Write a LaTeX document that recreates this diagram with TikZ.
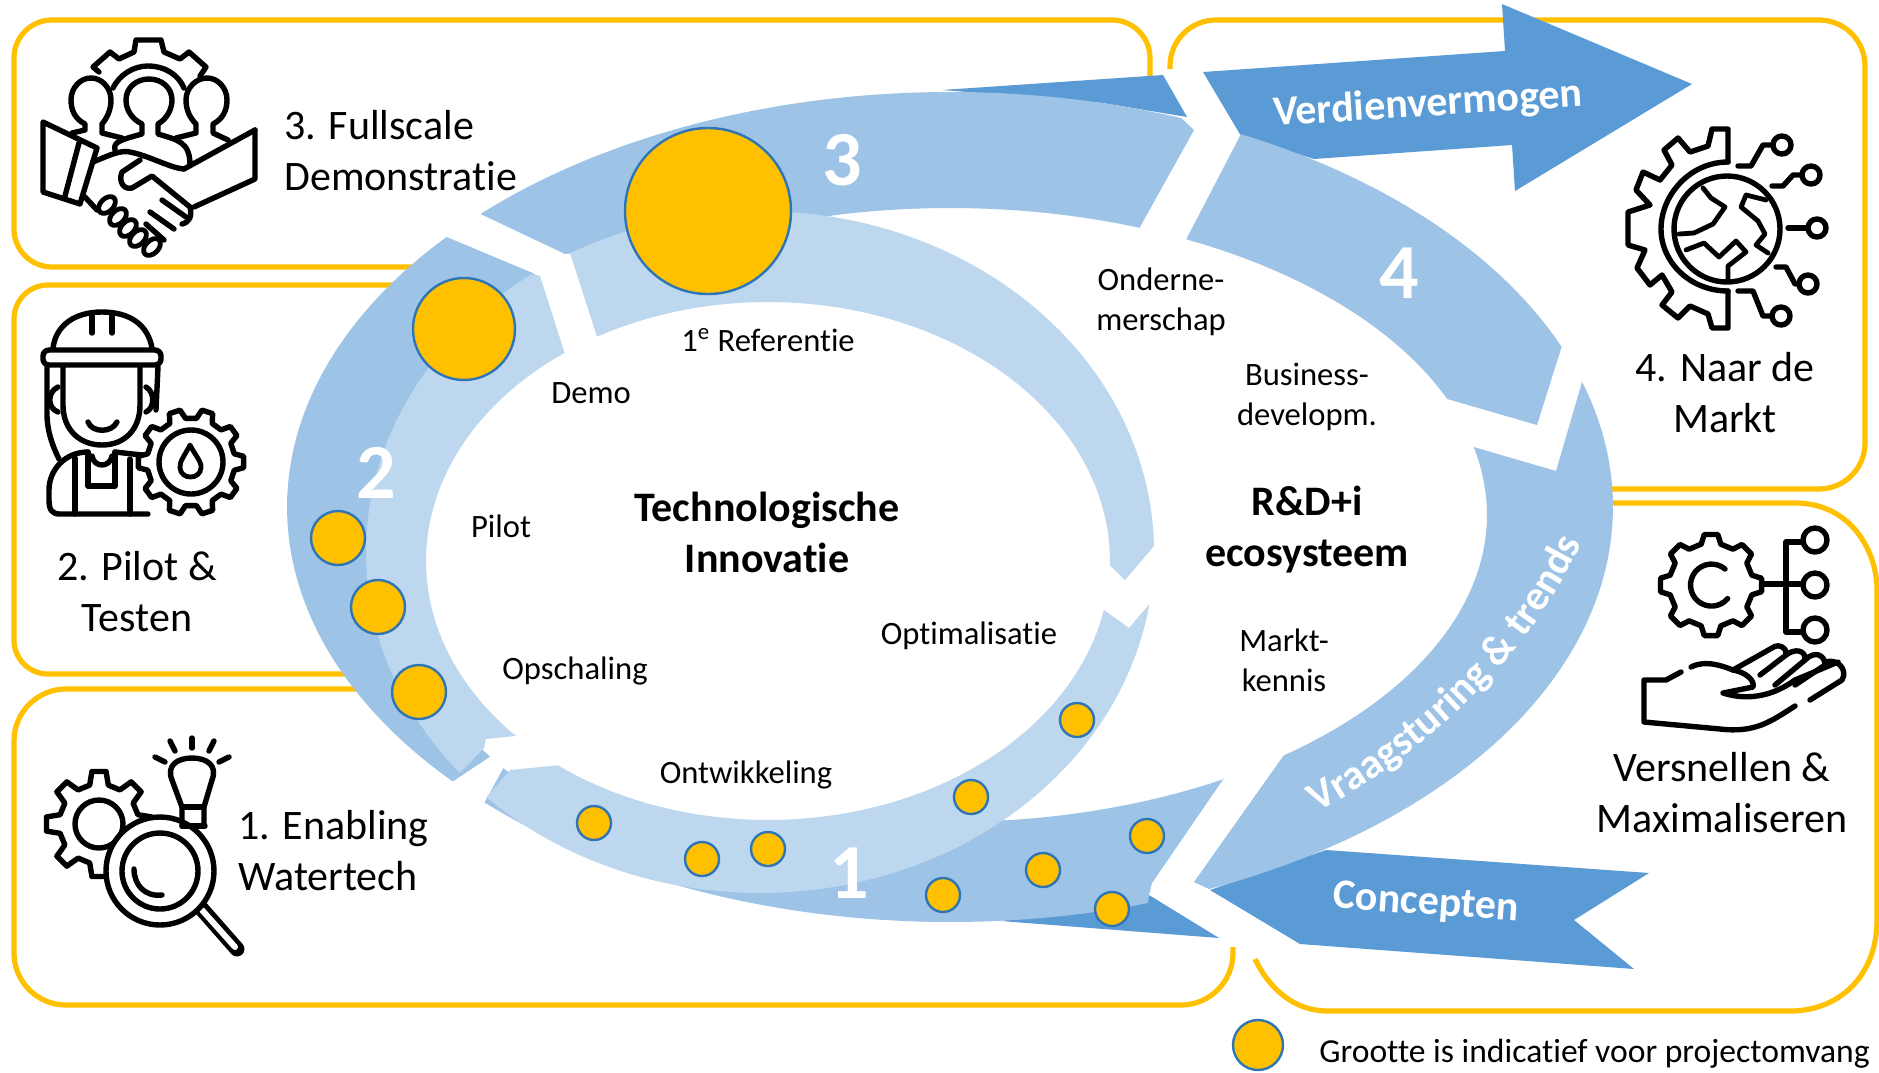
\documentclass[tikz,border=0pt]{standalone}
\usepackage{fontspec}
\setmainfont{Carlito}[Ligatures=NoCommon]
\usetikzlibrary{decorations.text}
\definecolor{ringlight}{HTML}{BDD7EE}
\definecolor{ringmid}{HTML}{9DC3E6}
\definecolor{ringdark}{HTML}{5B9BD5}
\definecolor{gold}{HTML}{FFC000}
\definecolor{dotline}{HTML}{2E75B6}
\tikzset{
  framebox/.style={draw=gold,line width=2.6pt,line cap=butt},
  dot/.style={fill=gold,draw=dotline,line width=1.2pt},
  ico/.style={draw=black,line width=2.7pt,line cap=round,line join=round},
  bigtext/.style={font=\fontsize{21}{25.5}\selectfont,align=center,inner sep=0pt},
  bigleft/.style={font=\fontsize{21}{25.5}\selectfont,align=left,inner sep=0pt,anchor=west},
  smalltext/.style={font=\fontsize{16.3}{20}\selectfont,align=center,inner sep=0pt},
  boldtext/.style={font=\fontsize{21}{25.5}\selectfont\bfseries,align=center,inner sep=0pt},
  numtext/.style={font=\fontsize{39}{39}\selectfont\bfseries,text=white,inner sep=0pt},
  arrowtext/.style={font=\fontsize{21}{24}\selectfont\bfseries,text=white,inner sep=0pt},
}
% elliptical edges of the rings: inner, light outer, mid outer, mid inner, hidden middle
\newcommand{\EA}[2]{-- plot[domain=#1:#2,samples=70] ({768+342*cos(\x)},{561+259*sin(\x)})}
\newcommand{\EB}[2]{-- plot[domain=#1:#2,samples=70] ({760+394*cos(\x)},{552+341*sin(\x)})}
\newcommand{\EC}[2]{-- plot[domain=#1:#2,samples=90] ({950+663*cos(\x)},{507+415*sin(\x)})}
\newcommand{\ED}[2]{-- plot[domain=#1:#2,samples=90] ({950+537*cos(\x)},{515+307*sin(\x)})}
\newcommand{\EM}[2]{-- plot[domain=#1:#2,samples=50] ({765+370*cos(\x)},{556+300*sin(\x)})}
\newcommand{\gearico}[6]{% cx cy Rout Rin teeth startangle
  \pgfmathsetmacro{\gd}{360/#5}
  \pgfmathtruncatemacro{\gn}{#5-1}
  \begin{scope}[shift={(#1,#2)}]
  \draw[ico,fill=white] ({#6-0.3*\gd}:#4)
    \foreach \i in {0,...,\gn}{
      -- ({#6+\i*\gd-0.17*\gd}:#3) -- ({#6+\i*\gd+0.17*\gd}:#3)
      -- ({#6+\i*\gd+0.3*\gd}:#4) -- ({#6+\i*\gd+0.7*\gd}:#4)} -- cycle;
  \end{scope}}
\begin{document}
\begin{tikzpicture}[x=0.5pt,y=-0.5pt]
\useasboundingbox[fill=white] (0,0) rectangle (1879,1072);
% frames
\draw[framebox,rounded corners=19pt] (430,267) -- (14,267) -- (14,20) -- (1150,20) -- (1150,76);
\draw[framebox,rounded corners=17pt] (410,285) -- (14,285) -- (14,674) -- (360,674);
\draw[framebox,rounded corners=26pt] (370,689) -- (14,689) -- (14,1005) -- (1233,1005) -- (1233,947);
\draw[framebox,rounded corners=23pt] (1170,69) -- (1170,20) -- (1865,20) -- (1865,489) -- (1600,489);
\draw[framebox] (1600,503) -- (1795,503) .. controls (1850,503) and (1877,550) .. (1877,590) -- (1877,920) .. controls (1877,975) and (1840,1011) .. (1790,1011) -- (1328,1011) .. controls (1295,1011) and (1270,990) .. (1255,959);
% dark arrows
\fill[ringdark] (1203,72) -- (1505,51) -- (1502,4) -- (1692,84) -- (1515,191) -- (1512,145) -- (1314,159) -- (1241,136) -- cycle;
\fill[ringdark] (1326,850) -- (1649,873) -- (1574,920) -- (1634,969) -- (1300,944) -- (1210,890) -- cycle;
\fill[ringdark] (942,90) -- (1163,75) -- (1187,117) -- (1103,103) -- cycle;
\fill[ringdark] (1001,921) -- (1219,938) -- (1149,895) -- (1100,905) -- cycle;
% mid rings
\fill[ringmid] (480.5,214) \EC{-135.1}{-69.6} -- (1194,130) -- (1140,227) \ED{-69.3}{-102.6} -- (700,240) -- (565,254) -- cycle;
\fill[ringmid] (1241,134) \EC{-63.9}{-22.7} -- (1537,425) \ED{-22.2}{-63.9} -- cycle;
\fill[ringmid] (1582,382) \EC{-17.5}{67} -- (1194,882) \ED{51.6}{-12.8} -- (1556,471) -- cycle;
\fill[ringmid] (446.6,237) \EC{-139.4}{-221.4} \EM{-222}{-128} -- (535,274) -- cycle;
\fill[ringmid] (1224,778) -- (1152,883) -- (1149,895) -- (1148,903) \EC{72.5}{134.6} \EM{135}{60} \ED{84}{59.3} -- cycle;
% light rings
\fill[ringlight] (570,253) \EB{-118.8}{-1} -- (1125,580) \EA{1}{-120} -- cycle;
\fill[ringlight] (540,276) \EA{-126.5}{-222.5} -- (486,739) -- (484,748) \EB{-220.4}{-125.4} -- cycle;
\fill[ringlight] (510,770) \EA{127.9}{10.9} -- (1129,628) \EB{8.8}{134} -- cycle;
% dots
\foreach \nm/\cx/\cy/\rr in {a/708/211/83,b/464/329/51,c/338/538/27,d/378/607/27,e/419/692/27,f/594/823/17,g/702/859/17,h/768/849/17,k/971/797/17,l/1077/720/17,m/943/895/17,n/1043/870/17,o/1147/836/17,p/1112/909/17,q/1258/1045/25}{
  \fill[dot] (\cx,\cy) circle[radius=\rr];
}
% ring numbers
\node[numtext] (num3) at (842,160) {3};
\node[numtext] (num4) at (1399,273) {4};
\node[numtext] (num2) at (376,473) {2};
\node[numtext] (num1) at (849,873) {1};
% arrow labels
\node[arrowtext,rotate=3.6] (verdien) at (1428,105) {Verdienvermogen};
\node[arrowtext,rotate=-4] (concepten) at (1426,904) {Concepten};
\path[decorate,decoration={text along path,text align=center,text={|\fontsize{21}{24}\selectfont\bfseries\color{white}|Vraagsturing {\&} trends}}]
  (1300,822) .. controls (1425,757) and (1535,655) .. (1590,525);
% labels
\node[bigleft] (l3) at (284,151) {3. Fullscale\\Demonstratie};
\node[bigtext] (l2) at (137,592) {2. Pilot \&\\Testen};
\node[bigleft] (l1) at (238,851) {1. Enabling\\Watertech};
\node[bigtext] (l4) at (1725,393) {4. Naar de\\Markt};
\node[bigtext] (lv) at (1722,793) {Versnellen \&\\Maximaliseren};
\node[boldtext] (tech) at (767,532) {Technologische\\Innovatie};
\node[boldtext] (rdi) at (1307,530) {R\&D+i\\ecosysteem};
\node[smalltext] (onder) at (1161,302) {Onderne-\\merschap};
\node[smalltext] (busi) at (1307,397) {Business-\\developm.};
\node[smalltext] (markt) at (1284,660) {Markt-\\kennis};
\node[smalltext] (ref) at (768,340) {1\textsuperscript{e} Referentie};
\node[smalltext] (demo) at (591,393) {Demo};
\node[smalltext] (pilot) at (501,526) {Pilot};
\node[smalltext] (opsch) at (575,671) {Opschaling};
\node[smalltext] (optim) at (969,636) {Optimalisatie};
\node[smalltext] (ontw) at (746,775) {Ontwikkeling};
\node[smalltext,anchor=west,font=\fontsize{16.8}{20}\selectfont] (legend) at (1319,1054) {Grootte is indicatief voor projectomvang};
% icon 3: people, gear, handshake
\draw[ico] (99,72) -- (93,67) -- (110,52) -- (119,59) -- (134,52) -- (136,40) -- (161,40) -- (164,52) -- (180,59) -- (189,52) -- (206,67) -- (200,76);
\draw[ico] (113,88) .. controls (120,74) and (134,66) .. (148,66) .. controls (164,66) and (178,74) .. (184,88);
\draw[ico] (115,150) .. controls (113,142) and (120,140) .. (142,134) -- (142,124) .. controls (130,118) and (126,108) .. (126,100) .. controls (126,88) and (136,79) .. (149,79) .. controls (162,79) and (172,88) .. (172,100) .. controls (172,108) and (168,118) .. (158,124) -- (158,134) .. controls (178,140) and (190,142) .. (190,165);
\draw[ico] (72,133) -- (85,130) -- (85,124) .. controls (75,119) and (71,110) .. (71,100) .. controls (71,88) and (80,78) .. (91,78) .. controls (102,78) and (111,88) .. (111,100) .. controls (111,110) and (107,118) .. (102,124) -- (102,133) -- (122,138);
\draw[ico] (228,140) -- (213,133) -- (213,124) .. controls (223,119) and (227,110) .. (227,100) .. controls (227,88) and (218,78) .. (207,78) .. controls (196,78) and (186,88) .. (186,100) .. controls (186,110) and (190,118) .. (196,124) -- (196,133) -- (176,138);
\draw[ico] (43,122) -- (43,192) -- (80,204) -- (97,148) -- cycle;
\draw[ico] (79,143) -- (65,196);
\draw[ico] (255,130) -- (255,179) -- (194,207);
\draw[ico] (255,130) -- (184,169);
\draw[ico] (93,162) .. controls (110,155) and (120,150) .. (130,152) .. controls (150,156) and (170,168) .. (184,169);
\draw[ico] (140,160) -- (122,172) .. controls (118,182) and (124,190) .. (132,188) -- (152,176) -- (190,207) .. controls (192,216) and (190,222) .. (182,224);
\draw[ico] (85,197) -- (97,210);
\foreach \fx/\fy in {107/205,118/217,128/228,138/238,152/247}{\draw[ico,line width=2.4pt,fill=white,rotate around={45:(\fx,\fy)}] (\fx,\fy) ellipse[x radius=10,y radius=6.5];}
\draw[ico] (162,200) -- (186,217);
\draw[ico] (150,212) -- (174,229);
\draw[ico] (146,224) -- (164,240);
% icon 2: worker with gear
\draw[ico] (53,348) .. controls (56,325) and (75,312) .. (102,312) .. controls (130,312) and (148,325) .. (152,348);
\draw[ico] (92,316) -- (92,333);
\draw[ico] (112,316) -- (112,333);
\draw[ico,rounded corners=3pt] (43,350) rectangle (161,365);
\draw[ico] (63,367) -- (63,405) .. controls (63,430) and (80,445) .. (102,445) .. controls (124,445) and (140,430) .. (140,405) -- (140,367);
\draw[ico] (88,422) .. controls (92,433) and (112,433) .. (117,422);
\draw[ico] (47,367) -- (47,414) .. controls (47,430) and (52,445) .. (59,459);
\draw[ico] (158,367) -- (156,410);
\draw[ico] (58,387) .. controls (47,392) and (47,408) .. (58,412);
\draw[ico] (146,387) .. controls (155,392) and (155,408) .. (146,412);
\draw[ico] (148,514) -- (60,514) .. controls (52,514) and (49,510) .. (49,500) -- (49,490) .. controls (49,470) and (65,452) .. (88,452);
\draw[ico] (115,452) -- (142,455);
\draw[ico] (75,458) -- (75,514);
\draw[ico] (130,459) -- (130,514);
\draw[ico] (88,452) -- (88,486) -- (115,486) -- (115,452);
\draw[ico] (92,456) .. controls (94,468) and (110,468) .. (112,456);
\gearico{191}{462}{53}{44}{10}{0}
\draw[ico] (191,462) circle[radius=32];
\draw[ico,line width=2.4pt] (190,445) .. controls (185,455) and (179,462) .. (180,468) .. controls (181,480) and (200,480) .. (201,468) .. controls (202,462) and (195,455) .. (190,445) -- cycle;
% icon 1: gear, bulb, magnifier
\gearico{99}{824}{53}{40}{8}{0}
\draw[ico] (99,824) circle[radius=24];
\draw[ico,line cap=round,line width=7.5pt] (200,907) -- (237,949);
\draw[draw=white,line width=3pt,line cap=round] (202,910) -- (235,947);
\draw[ico,fill=white] (160,871) circle[radius=54];
\draw[ico] (160,871) circle[radius=38];
\draw[ico] (134,869) .. controls (134,885) and (145,897) .. (162,895);
\draw[ico] (182,826) -- (182,807) -- (172,780) .. controls (166,765) and (178,758) .. (192,758) .. controls (206,758) and (218,765) .. (212,780) -- (204,807) -- (204,826);
\draw[ico] (182,826) -- (205,826);
\draw[ico] (182,807) -- (204,807);
\draw[ico] (170,741) -- (175,751);
\draw[ico] (192,738) -- (192,748);
\draw[ico] (214,741) -- (209,751);
\draw[ico] (155,757) -- (165,762);
\draw[ico] (229,757) -- (219,762);
% icon 4: gear, globe, circuit
\draw[ico] (1728,162) -- (1728,129) -- (1712,129) -- (1708,146) -- (1690,152) -- (1678,138) -- (1664,150) -- (1672,165) -- (1660,180) -- (1643,172) -- (1636,190) -- (1650,205) -- (1628,212) -- (1628,245) -- (1645,250) -- (1637,268) -- (1650,285) -- (1662,275) -- (1672,292) -- (1662,305) -- (1678,318) -- (1690,306) -- (1708,314) -- (1712,328) -- (1728,328) -- (1728,291);
\draw[ico] (1728,162) .. controls (1690,162) and (1661,195) .. (1661,229) .. controls (1661,262) and (1690,291) .. (1728,291);
\draw[ico] (1727,229) circle[radius=53];
\draw[ico,line width=2.4pt] (1703,188) -- (1711,198) -- (1725,207) -- (1713,224) -- (1694,233) -- (1679,234);
\draw[ico,line width=2.4pt] (1766,200) -- (1746,195) -- (1741,207) -- (1758,221) -- (1765,234) -- (1756,245) -- (1768,253);
\draw[ico,line width=2.4pt] (1686,250) -- (1704,243) -- (1719,257) -- (1736,241) -- (1746,252) -- (1728,266) -- (1728,279);
\draw[ico] (1738,166) -- (1751,166) -- (1763,145) -- (1773,145);
\draw[ico] (1782,145) circle[radius=9];
\draw[ico] (1772,186) -- (1783,186) -- (1793,175) -- (1802,175);
\draw[ico] (1811,175) circle[radius=9];
\draw[ico] (1788,228) -- (1808,228);
\draw[ico] (1817,228) circle[radius=9];
\draw[ico] (1776,267) -- (1786,267) -- (1795,284) -- (1799,284);
\draw[ico] (1808,284) circle[radius=9];
\draw[ico] (1738,291) -- (1753,291) -- (1763,316) -- (1772,316);
\draw[ico] (1781,316) circle[radius=9];
% icon 5: gear, nodes, hand
\gearico{1711}{585}{51}{42}{8}{0}
\draw[ico] (1725,569) arc[start angle=-50,end angle=-320,radius=21];
\draw[ico] (1763,584) -- (1803,584);
\draw[ico] (1803,542) -- (1786,542) -- (1786,632) -- (1803,632);
\draw[ico] (1815,540) circle[radius=12];
\draw[ico] (1815,585) circle[radius=12];
\draw[ico] (1815,630) circle[radius=12];
\draw[ico] (1681,672) -- (1666,680) -- (1644,680) -- (1644,722) -- (1720,729) .. controls (1755,733) and (1770,722) .. (1795,706);
\draw[ico] (1691,667) .. controls (1705,660) and (1720,665) .. (1733,670) .. controls (1745,672) and (1755,680) .. (1753,687) -- (1723,693) .. controls (1745,700) and (1770,698) .. (1795,680) -- (1838,662);
\draw[ico] (1733,670) -- (1772,648) .. controls (1780,642) and (1788,650) .. (1786,655) -- (1760,675);
\draw[ico] (1786,655) .. controls (1795,648) and (1806,650) .. (1805,660) -- (1775,685);
\draw[ico] (1805,660) .. controls (1815,650) and (1825,655) .. (1825,665) -- (1795,685);
\draw[ico] (1825,662) .. controls (1838,658) and (1848,670) .. (1842,680) -- (1810,700);
\end{tikzpicture}
\end{document}
